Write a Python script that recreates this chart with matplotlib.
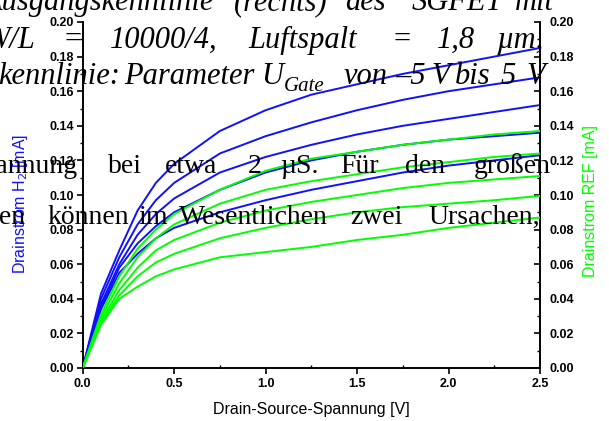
import matplotlib
matplotlib.use("Agg")
import matplotlib.pyplot as plt
from matplotlib.ticker import MultipleLocator, FormatStrFormatter
from matplotlib.font_manager import FontProperties

# ---------------- data ----------------
vds = [0.0, 0.1, 0.2, 0.3, 0.4, 0.5, 0.75, 1.0, 1.25, 1.5, 1.75, 2.0, 2.25, 2.5]

h2_1 = [0.0, 0.043, 0.068, 0.091, 0.107, 0.118, 0.137, 0.149, 0.158, 0.164, 0.170, 0.175, 0.180, 0.185]
h2_2 = [0.0, 0.040, 0.064, 0.083, 0.097, 0.107, 0.124, 0.134, 0.142, 0.149, 0.155, 0.160, 0.164, 0.168]
h2_3 = [0.0, 0.037, 0.060, 0.077, 0.089, 0.098, 0.113, 0.122, 0.129, 0.135, 0.140, 0.144, 0.148, 0.152]
h2_4 = [0.0, 0.035, 0.058, 0.072, 0.082, 0.090, 0.103, 0.113, 0.120, 0.125, 0.129, 0.132, 0.134, 0.136]
h2_5 = [0.0, 0.034, 0.055, 0.066, 0.075, 0.081, 0.090, 0.097, 0.103, 0.108, 0.113, 0.117, 0.120, 0.123]

ref_1 = [0.0, 0.031, 0.053, 0.069, 0.080, 0.089, 0.103, 0.114, 0.121, 0.125, 0.129, 0.132, 0.135, 0.137]
ref_2 = [0.0, 0.029, 0.049, 0.064, 0.075, 0.083, 0.095, 0.103, 0.108, 0.112, 0.116, 0.119, 0.122, 0.124]
ref_3 = [0.0, 0.027, 0.045, 0.058, 0.068, 0.074, 0.084, 0.091, 0.096, 0.100, 0.104, 0.107, 0.109, 0.111]
ref_4 = [0.0, 0.026, 0.042, 0.053, 0.061, 0.066, 0.075, 0.081, 0.086, 0.090, 0.093, 0.095, 0.097, 0.0995]
ref_5 = [0.0, 0.025, 0.040, 0.047, 0.053, 0.057, 0.064, 0.067, 0.070, 0.074, 0.077, 0.081, 0.084, 0.087]

h2_series = [h2_1, h2_2, h2_3, h2_4, h2_5]
ref_series = [ref_1, ref_2, ref_3, ref_4, ref_5]

x_label = "Drain-Source-Spannung [V]"
y_left_label = "Drainstrom H$_2$ [mA]"
y_right_label = "Drainstrom REF [mA]"

# overlay page text (word, x_px) per line
cap_line1 = [("Ausgangskennlinie", -16), ("(rechts)", 234), ("des", 345), ("SGFET", 412), ("mit", 515)]
cap_line2 = [("W/L", -15), ("=", 63), ("10000/4,", 110), ("Luftspalt", 248), ("=", 392), ("1,8", 437), ("\u00b5m,", 497)]
cap_line3 = [("kennlinie:", -2), ("Parameter", 124), ("U", 261), ("von", 344), ("\u20135", 395), ("V", 431), ("bis", 455), ("5", 501), ("V", 526)]
body_line1 = [("Spannung", -34), ("bei", 108), ("etwa", 165), ("2", 248), ("\u00b5S.", 280), ("F\u00fcr", 340), ("den", 405), ("gro\u00dfen", 474)]
body_line2 = [("gen", -14), ("k\u00f6nnen", 47), ("im", 138), ("Wesentlichen", 179), ("zwei", 350), ("Ursachen,", 428)]

# ---------------- figure ----------------
W, H = 609, 421
fig = plt.figure(figsize=(W / 100, H / 100), dpi=100)
L, R, B, T = 82.7, 540, 368, 22
ax = fig.add_axes([L / W, 1 - B / H, (R - L) / W, (B - T) / H])
ax2 = ax.twinx()

blue = "#1010ff"
green = "#00ff00"
for s in h2_series:
    ax.plot(vds, s, color=blue, lw=1.4, zorder=3)
for s in ref_series:
    ax2.plot(vds, s, color=green, lw=1.4, zorder=3)

for a in (ax, ax2):
    a.set_xlim(0, 2.5)
    a.set_ylim(0, 0.20)
    a.spines["top"].set_visible(False)
    for sp in ("left", "right", "bottom"):
        a.spines[sp].set_linewidth(1.2)
    a.yaxis.set_major_locator(MultipleLocator(0.02))
    a.yaxis.set_minor_locator(MultipleLocator(0.01))
    a.yaxis.set_major_formatter(FormatStrFormatter("%.2f"))

ax.xaxis.set_major_locator(MultipleLocator(0.5))
ax.xaxis.set_minor_locator(MultipleLocator(0.25))
ax.xaxis.set_major_formatter(FormatStrFormatter("%.1f"))

tickfp = FontProperties(family="Liberation Sans", weight="bold", size=9)
ax.tick_params(axis="y", which="major", direction="out", length=4, width=1.2, pad=2)
ax.tick_params(axis="y", which="minor", direction="out", length=2.5, width=1.0)
ax.tick_params(axis="x", which="major", direction="out", length=4, width=1.2, pad=3)
ax.tick_params(axis="x", which="minor", direction="in", length=2.5, width=1.0)
ax2.tick_params(axis="y", which="major", direction="in", length=4, width=1.2, pad=7)
ax2.tick_params(axis="y", which="minor", direction="in", length=2.5, width=1.0)
for lab in ax.get_xticklabels() + ax.get_yticklabels() + ax2.get_yticklabels():
    lab.set_fontproperties(tickfp)

labfont = dict(family="Liberation Sans", size=11.5)
ax.set_xlabel(x_label, **labfont)
ax.xaxis.set_label_coords(0.5, (368 - 402) / 346)
ax.set_ylabel(y_left_label, color=blue, **labfont)
ax.yaxis.label.set_verticalalignment("center")
ax.yaxis.set_label_coords((21 - 82.7) / 457.3, 0.475)
ax2.set_ylabel(y_right_label, color=green, **labfont)
ax2.yaxis.label.set_verticalalignment("center")
ax2.yaxis.set_label_coords((590 - 82.7) / 457.3, 0.483)

# ---------------- overlay page text ----------------
def put(words, base_y, style, size):
    for w, xp in words:
        fig.text(xp / W, 1 - base_y / H, w, ha="left", va="baseline",
                 family="Liberation Serif", style=style, size=size, color="black", zorder=10)

cap_size = 22
body_size = 20
put(cap_line1, 10, "italic", cap_size)
put(cap_line2, 48, "italic", cap_size)
put(cap_line3, 84, "italic", cap_size)
fig.text(284 / W, 1 - 91 / H, "Gate", ha="left", va="baseline",
         family="Liberation Serif", style="italic", size=15, color="black", zorder=10)
put(body_line1, 173, "normal", body_size)
put(body_line2, 224, "normal", body_size)

fig.savefig("out.png", dpi=100)
